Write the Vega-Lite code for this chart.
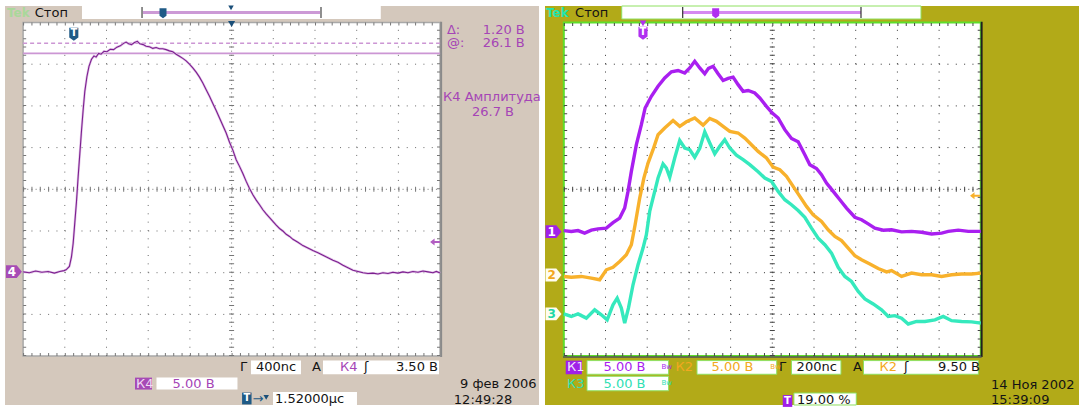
{
"$schema": "https://vega.github.io/schema/vega-lite/v6.json",
"background": "#ffffff",
"padding": 0,
"spacing": 0,
"bounds": "flush",
"config": {
  "view": {"stroke": null},
  "axis": {"disable": true},
  "legend": {"disable": true},
  "text": {"font": "DejaVu Sans", "fontSize": 13, "align": "left", "baseline": "middle"}
},
"datasets": {
  "one": [{"a": 1}],
  "gv": [{"g": -4}, {"g": -3}, {"g": -2}, {"g": -1}, {"g": 1}, {"g": 2}, {"g": 3}, {"g": 4}],
  "gh": [{"g": -3}, {"g": -2}, {"g": -1}, {"g": 1}, {"g": 2}, {"g": 3}],
  "L_trace": [
    {"t": -5.0, "v": -1.98}, {"t": -4.85, "v": -2.0}, {"t": -4.7, "v": -1.96}, {"t": -4.55, "v": -1.99}, {"t": -4.4, "v": -1.97}, {"t": -4.25, "v": -2.01}, {"t": -4.12, "v": -1.97}, {"t": -4.02, "v": -1.95}, {"t": -3.97, "v": -1.93}, {"t": -3.89, "v": -1.85}, {"t": -3.84, "v": -1.62}, {"t": -3.8, "v": -1.3}, {"t": -3.76, "v": -0.8}, {"t": -3.72, "v": -0.3}, {"t": -3.68, "v": 0.3}, {"t": -3.64, "v": 0.85}, {"t": -3.6, "v": 1.4}, {"t": -3.56, "v": 1.9}, {"t": -3.52, "v": 2.35}, {"t": -3.47, "v": 2.7}, {"t": -3.42, "v": 2.95}, {"t": -3.36, "v": 3.12}, {"t": -3.3, "v": 3.2}, {"t": -3.25, "v": 3.17}, {"t": -3.19, "v": 3.26}, {"t": -3.13, "v": 3.24}, {"t": -3.06, "v": 3.31}, {"t": -2.99, "v": 3.3}, {"t": -2.91, "v": 3.36}, {"t": -2.83, "v": 3.35}, {"t": -2.75, "v": 3.41}, {"t": -2.67, "v": 3.44}, {"t": -2.59, "v": 3.5}, {"t": -2.53, "v": 3.53}, {"t": -2.47, "v": 3.49}, {"t": -2.4, "v": 3.47}, {"t": -2.33, "v": 3.52}, {"t": -2.26, "v": 3.55}, {"t": -2.2, "v": 3.49}, {"t": -2.12, "v": 3.47}, {"t": -2.05, "v": 3.43}, {"t": -1.97, "v": 3.42}, {"t": -1.89, "v": 3.38}, {"t": -1.81, "v": 3.4}, {"t": -1.73, "v": 3.37}, {"t": -1.65, "v": 3.37}, {"t": -1.57, "v": 3.35}, {"t": -1.49, "v": 3.32}, {"t": -1.41, "v": 3.3}, {"t": -1.33, "v": 3.24}, {"t": -1.25, "v": 3.19}, {"t": -1.17, "v": 3.14}, {"t": -1.09, "v": 3.08}, {"t": -1.01, "v": 3.0}, {"t": -0.93, "v": 2.91}, {"t": -0.85, "v": 2.81}, {"t": -0.77, "v": 2.69}, {"t": -0.69, "v": 2.55}, {"t": -0.61, "v": 2.39}, {"t": -0.53, "v": 2.23}, {"t": -0.45, "v": 2.06}, {"t": -0.37, "v": 1.89}, {"t": -0.29, "v": 1.71}, {"t": -0.21, "v": 1.53}, {"t": -0.13, "v": 1.35}, {"t": -0.05, "v": 1.13}, {"t": 0.03, "v": 0.94}, {"t": 0.11, "v": 0.71}, {"t": 0.19, "v": 0.55}, {"t": 0.27, "v": 0.38}, {"t": 0.35, "v": 0.19}, {"t": 0.43, "v": 0.02}, {"t": 0.51, "v": -0.13}, {"t": 0.59, "v": -0.26}, {"t": 0.67, "v": -0.37}, {"t": 0.75, "v": -0.49}, {"t": 0.83, "v": -0.59}, {"t": 0.91, "v": -0.68}, {"t": 0.99, "v": -0.77}, {"t": 1.07, "v": -0.86}, {"t": 1.15, "v": -0.94}, {"t": 1.23, "v": -1.0}, {"t": 1.31, "v": -1.08}, {"t": 1.39, "v": -1.13}, {"t": 1.47, "v": -1.2}, {"t": 1.59, "v": -1.27}, {"t": 1.71, "v": -1.35}, {"t": 1.83, "v": -1.41}, {"t": 1.95, "v": -1.47}, {"t": 2.07, "v": -1.52}, {"t": 2.19, "v": -1.58}, {"t": 2.31, "v": -1.64}, {"t": 2.43, "v": -1.7}, {"t": 2.55, "v": -1.75}, {"t": 2.67, "v": -1.82}, {"t": 2.79, "v": -1.88}, {"t": 2.91, "v": -1.94}, {"t": 3.03, "v": -1.97}, {"t": 3.15, "v": -2.0}, {"t": 3.27, "v": -2.02}, {"t": 3.39, "v": -2.01}, {"t": 3.51, "v": -2.03}, {"t": 3.63, "v": -2.0}, {"t": 3.75, "v": -2.02}, {"t": 3.87, "v": -1.99}, {"t": 3.99, "v": -2.01}, {"t": 4.11, "v": -1.98}, {"t": 4.23, "v": -2.0}, {"t": 4.35, "v": -1.97}, {"t": 4.47, "v": -1.99}, {"t": 4.59, "v": -1.96}, {"t": 4.71, "v": -1.98}, {"t": 4.83, "v": -2.0}, {"t": 4.91, "v": -1.97}, {"t": 5.0, "v": -2.01}
  ],
  "R_trace": [
    {"ch": "1", "t": -5.0, "v": -0.99}, {"ch": "1", "t": -4.82, "v": -1.01}, {"ch": "1", "t": -4.66, "v": -0.99}, {"ch": "1", "t": -4.5, "v": -1.05}, {"ch": "1", "t": -4.34, "v": -0.98}, {"ch": "1", "t": -4.18, "v": -0.95}, {"ch": "1", "t": -3.98, "v": -0.93}, {"ch": "1", "t": -3.82, "v": -0.8}, {"ch": "1", "t": -3.66, "v": -0.69}, {"ch": "1", "t": -3.54, "v": -0.45}, {"ch": "1", "t": -3.46, "v": -0.05}, {"ch": "1", "t": -3.38, "v": 0.43}, {"ch": "1", "t": -3.26, "v": 1.07}, {"ch": "1", "t": -3.14, "v": 1.55}, {"ch": "1", "t": -3.05, "v": 1.95}, {"ch": "1", "t": -2.9, "v": 2.23}, {"ch": "1", "t": -2.74, "v": 2.47}, {"ch": "1", "t": -2.58, "v": 2.67}, {"ch": "1", "t": -2.42, "v": 2.82}, {"ch": "1", "t": -2.26, "v": 2.85}, {"ch": "1", "t": -2.1, "v": 2.79}, {"ch": "1", "t": -1.98, "v": 2.91}, {"ch": "1", "t": -1.86, "v": 3.07}, {"ch": "1", "t": -1.74, "v": 2.91}, {"ch": "1", "t": -1.62, "v": 2.77}, {"ch": "1", "t": -1.53, "v": 2.9}, {"ch": "1", "t": -1.42, "v": 2.95}, {"ch": "1", "t": -1.3, "v": 2.77}, {"ch": "1", "t": -1.18, "v": 2.61}, {"ch": "1", "t": -1.06, "v": 2.66}, {"ch": "1", "t": -0.94, "v": 2.69}, {"ch": "1", "t": -0.82, "v": 2.51}, {"ch": "1", "t": -0.7, "v": 2.35}, {"ch": "1", "t": -0.58, "v": 2.37}, {"ch": "1", "t": -0.42, "v": 2.31}, {"ch": "1", "t": -0.3, "v": 2.19}, {"ch": "1", "t": -0.14, "v": 1.99}, {"ch": "1", "t": 0.0, "v": 1.83}, {"ch": "1", "t": 0.14, "v": 1.71}, {"ch": "1", "t": 0.3, "v": 1.43}, {"ch": "1", "t": 0.46, "v": 1.22}, {"ch": "1", "t": 0.62, "v": 1.14}, {"ch": "1", "t": 0.78, "v": 0.83}, {"ch": "1", "t": 0.9, "v": 0.59}, {"ch": "1", "t": 1.06, "v": 0.5}, {"ch": "1", "t": 1.18, "v": 0.35}, {"ch": "1", "t": 1.3, "v": 0.15}, {"ch": "1", "t": 1.46, "v": -0.05}, {"ch": "1", "t": 1.62, "v": -0.25}, {"ch": "1", "t": 1.78, "v": -0.45}, {"ch": "1", "t": 1.98, "v": -0.67}, {"ch": "1", "t": 2.14, "v": -0.73}, {"ch": "1", "t": 2.3, "v": -0.83}, {"ch": "1", "t": 2.46, "v": -0.93}, {"ch": "1", "t": 2.66, "v": -0.98}, {"ch": "1", "t": 2.86, "v": -0.97}, {"ch": "1", "t": 3.1, "v": -1.02}, {"ch": "1", "t": 3.34, "v": -1.01}, {"ch": "1", "t": 3.58, "v": -1.03}, {"ch": "1", "t": 3.82, "v": -1.07}, {"ch": "1", "t": 4.06, "v": -1.05}, {"ch": "1", "t": 4.22, "v": -1.01}, {"ch": "1", "t": 4.46, "v": -0.98}, {"ch": "1", "t": 4.7, "v": -1.01}, {"ch": "1", "t": 5.0, "v": -1.01},
    {"ch": "2", "t": -5.0, "v": -2.09}, {"ch": "2", "t": -4.82, "v": -2.11}, {"ch": "2", "t": -4.58, "v": -2.09}, {"ch": "2", "t": -4.34, "v": -2.13}, {"ch": "2", "t": -4.14, "v": -2.17}, {"ch": "2", "t": -3.98, "v": -1.93}, {"ch": "2", "t": -3.82, "v": -1.87}, {"ch": "2", "t": -3.66, "v": -1.73}, {"ch": "2", "t": -3.5, "v": -1.57}, {"ch": "2", "t": -3.38, "v": -1.33}, {"ch": "2", "t": -3.29, "v": -0.85}, {"ch": "2", "t": -3.18, "v": -0.21}, {"ch": "2", "t": -3.08, "v": 0.27}, {"ch": "2", "t": -2.98, "v": 0.63}, {"ch": "2", "t": -2.86, "v": 0.95}, {"ch": "2", "t": -2.74, "v": 1.31}, {"ch": "2", "t": -2.58, "v": 1.47}, {"ch": "2", "t": -2.38, "v": 1.65}, {"ch": "2", "t": -2.22, "v": 1.51}, {"ch": "2", "t": -2.06, "v": 1.62}, {"ch": "2", "t": -1.86, "v": 1.71}, {"ch": "2", "t": -1.66, "v": 1.54}, {"ch": "2", "t": -1.5, "v": 1.7}, {"ch": "2", "t": -1.34, "v": 1.63}, {"ch": "2", "t": -1.18, "v": 1.51}, {"ch": "2", "t": -1.02, "v": 1.39}, {"ch": "2", "t": -0.82, "v": 1.35}, {"ch": "2", "t": -0.66, "v": 1.23}, {"ch": "2", "t": -0.5, "v": 1.07}, {"ch": "2", "t": -0.34, "v": 0.91}, {"ch": "2", "t": -0.14, "v": 0.75}, {"ch": "2", "t": 0.02, "v": 0.53}, {"ch": "2", "t": 0.18, "v": 0.47}, {"ch": "2", "t": 0.34, "v": 0.31}, {"ch": "2", "t": 0.5, "v": 0.07}, {"ch": "2", "t": 0.66, "v": -0.17}, {"ch": "2", "t": 0.82, "v": -0.41}, {"ch": "2", "t": 0.98, "v": -0.61}, {"ch": "2", "t": 1.18, "v": -0.77}, {"ch": "2", "t": 1.34, "v": -0.97}, {"ch": "2", "t": 1.5, "v": -1.13}, {"ch": "2", "t": 1.66, "v": -1.23}, {"ch": "2", "t": 1.82, "v": -1.41}, {"ch": "2", "t": 1.98, "v": -1.59}, {"ch": "2", "t": 2.14, "v": -1.69}, {"ch": "2", "t": 2.34, "v": -1.79}, {"ch": "2", "t": 2.54, "v": -1.9}, {"ch": "2", "t": 2.74, "v": -1.98}, {"ch": "2", "t": 2.86, "v": -1.95}, {"ch": "2", "t": 3.1, "v": -2.09}, {"ch": "2", "t": 3.34, "v": -2.01}, {"ch": "2", "t": 3.58, "v": -2.05}, {"ch": "2", "t": 3.82, "v": -2.05}, {"ch": "2", "t": 4.06, "v": -2.09}, {"ch": "2", "t": 4.3, "v": -2.05}, {"ch": "2", "t": 4.54, "v": -2.03}, {"ch": "2", "t": 4.78, "v": -2.03}, {"ch": "2", "t": 5.0, "v": -2.01},
    {"ch": "3", "t": -5.0, "v": -2.99}, {"ch": "3", "t": -4.82, "v": -3.05}, {"ch": "3", "t": -4.66, "v": -2.99}, {"ch": "3", "t": -4.46, "v": -3.09}, {"ch": "3", "t": -4.26, "v": -2.89}, {"ch": "3", "t": -4.1, "v": -3.01}, {"ch": "3", "t": -3.96, "v": -3.13}, {"ch": "3", "t": -3.82, "v": -2.77}, {"ch": "3", "t": -3.72, "v": -2.61}, {"ch": "3", "t": -3.62, "v": -2.85}, {"ch": "3", "t": -3.54, "v": -3.21}, {"ch": "3", "t": -3.45, "v": -2.85}, {"ch": "3", "t": -3.34, "v": -2.29}, {"ch": "3", "t": -3.22, "v": -1.81}, {"ch": "3", "t": -3.1, "v": -1.41}, {"ch": "3", "t": -3.02, "v": -1.09}, {"ch": "3", "t": -2.94, "v": -0.53}, {"ch": "3", "t": -2.82, "v": -0.05}, {"ch": "3", "t": -2.74, "v": 0.27}, {"ch": "3", "t": -2.62, "v": 0.61}, {"ch": "3", "t": -2.54, "v": 0.51}, {"ch": "3", "t": -2.46, "v": 0.29}, {"ch": "3", "t": -2.34, "v": 0.75}, {"ch": "3", "t": -2.22, "v": 1.17}, {"ch": "3", "t": -2.1, "v": 0.99}, {"ch": "3", "t": -1.98, "v": 0.95}, {"ch": "3", "t": -1.86, "v": 0.77}, {"ch": "3", "t": -1.74, "v": 0.98}, {"ch": "3", "t": -1.62, "v": 1.38}, {"ch": "3", "t": -1.5, "v": 1.11}, {"ch": "3", "t": -1.38, "v": 0.85}, {"ch": "3", "t": -1.26, "v": 1.03}, {"ch": "3", "t": -1.14, "v": 1.19}, {"ch": "3", "t": -1.02, "v": 0.99}, {"ch": "3", "t": -0.86, "v": 0.82}, {"ch": "3", "t": -0.7, "v": 0.71}, {"ch": "3", "t": -0.54, "v": 0.59}, {"ch": "3", "t": -0.34, "v": 0.42}, {"ch": "3", "t": -0.18, "v": 0.27}, {"ch": "3", "t": -0.02, "v": 0.19}, {"ch": "3", "t": 0.14, "v": -0.05}, {"ch": "3", "t": 0.3, "v": -0.25}, {"ch": "3", "t": 0.46, "v": -0.37}, {"ch": "3", "t": 0.62, "v": -0.51}, {"ch": "3", "t": 0.78, "v": -0.67}, {"ch": "3", "t": 0.94, "v": -0.93}, {"ch": "3", "t": 1.1, "v": -1.17}, {"ch": "3", "t": 1.26, "v": -1.33}, {"ch": "3", "t": 1.42, "v": -1.53}, {"ch": "3", "t": 1.58, "v": -1.87}, {"ch": "3", "t": 1.74, "v": -2.09}, {"ch": "3", "t": 1.9, "v": -2.21}, {"ch": "3", "t": 2.06, "v": -2.45}, {"ch": "3", "t": 2.22, "v": -2.63}, {"ch": "3", "t": 2.42, "v": -2.75}, {"ch": "3", "t": 2.62, "v": -2.89}, {"ch": "3", "t": 2.78, "v": -3.05}, {"ch": "3", "t": 2.94, "v": -3.03}, {"ch": "3", "t": 3.1, "v": -3.09}, {"ch": "3", "t": 3.26, "v": -3.23}, {"ch": "3", "t": 3.46, "v": -3.17}, {"ch": "3", "t": 3.66, "v": -3.17}, {"ch": "3", "t": 3.9, "v": -3.13}, {"ch": "3", "t": 4.1, "v": -3.05}, {"ch": "3", "t": 4.3, "v": -3.15}, {"ch": "3", "t": 4.54, "v": -3.17}, {"ch": "3", "t": 4.78, "v": -3.18}, {"ch": "3", "t": 5.0, "v": -3.21}
  ],
  "L_box": [
    {"x": -3.588, "x2": 3.578, "y": 4.396, "y2": 4.084},
    {"x": 0.465, "x2": 1.664, "y": -4.106, "y2": -4.434},
    {"x": 2.192, "x2": 4.974, "y": -4.106, "y2": -4.434},
    {"x": -1.801, "x2": 0.141, "y": -4.516, "y2": -4.803},
    {"x": 0.993, "x2": 3.007, "y": -4.861, "y2": -5.173}
  ],
  "R_box": [
    {"x": -3.611, "x2": 3.566, "y": 4.396, "y2": 4.084},
    {"x": -4.444, "x2": -2.487, "y": -4.108, "y2": -4.436},
    {"x": -1.806, "x2": 0.106, "y": -4.108, "y2": -4.436},
    {"x": 0.46, "x2": 1.647, "y": -4.108, "y2": -4.436},
    {"x": 2.187, "x2": 4.942, "y": -4.108, "y2": -4.436},
    {"x": -4.444, "x2": -2.487, "y": -4.484, "y2": -4.832},
    {"x": 0.518, "x2": 2.014, "y": -4.885, "y2": -5.173}
  ],
  "L_text": [
    {"s": "Tek", "x": -5.386, "y": 4.225, "k": "tek"},
    {"s": "Стоп", "x": -4.72, "y": 4.225, "k": "ink"},
    {"s": "Δ:", "x": 5.165, "y": 3.82, "k": "ch"},
    {"s": "1.20 В", "x": 6.024, "y": 3.82, "k": "ch"},
    {"s": "@:", "x": 5.165, "y": 3.508, "k": "ch"},
    {"s": "26.1 В", "x": 6.024, "y": 3.508, "k": "ch"},
    {"s": "К4 Амплитуда", "x": 5.07, "y": 2.213, "k": "ch"},
    {"s": "26.7 В", "x": 5.765, "y": 1.853, "k": "ch"},
    {"s": "Г", "x": 0.201, "y": -4.261, "k": "ink"},
    {"s": "400nс", "x": 0.585, "y": -4.261, "k": "ink"},
    {"s": "А", "x": 1.928, "y": -4.261, "k": "ink"},
    {"s": "К4", "x": 2.6, "y": -4.261, "k": "ch"},
    {"s": "ʃ", "x": 3.175, "y": -4.261, "k": "ink"},
    {"s": "3.50 В", "x": 3.942, "y": -4.261, "k": "ink"},
    {"s": "К4", "x": -2.293, "y": -4.659, "k": "lt"},
    {"s": "5.00 В", "x": -1.415, "y": -4.659, "k": "ch"},
    {"s": "→", "x": 0.5, "y": -5.02, "k": "blue"},
    {"s": "1.52000µс", "x": 1.041, "y": -5.036, "k": "ink"},
    {"s": "9 фев 2006", "x": 5.48, "y": -4.679, "k": "ink"},
    {"s": "12:49:28", "x": 5.33, "y": -5.048, "k": "ink"}
  ],
  "R_text": [
    {"s": "Tek", "x": -5.427, "y": 4.225, "k": "tek"},
    {"s": "Стоп", "x": -4.73, "y": 4.225, "k": "ink"},
    {"s": "К1", "x": -4.923, "y": -4.272, "k": "lt"},
    {"s": "5.00 В", "x": -4.048, "y": -4.272, "k": "c1"},
    {"s": "К2", "x": -2.321, "y": -4.272, "k": "c2"},
    {"s": "5.00 В", "x": -1.458, "y": -4.272, "k": "c2"},
    {"s": "Г", "x": 0.161, "y": -4.272, "k": "ink"},
    {"s": "200nс", "x": 0.583, "y": -4.272, "k": "ink"},
    {"s": "А", "x": 1.935, "y": -4.272, "k": "ink"},
    {"s": "К2", "x": 2.573, "y": -4.272, "k": "c2"},
    {"s": "ʃ", "x": 3.158, "y": -4.272, "k": "ink"},
    {"s": "9.50 В", "x": 3.974, "y": -4.272, "k": "ink"},
    {"s": "К3", "x": -4.923, "y": -4.662, "k": "c3"},
    {"s": "5.00 В", "x": -4.048, "y": -4.662, "k": "c3"},
    {"s": "19.00 %", "x": 0.592, "y": -5.06, "k": "ink"},
    {"s": "14 Ноя 2002", "x": 5.245, "y": -4.683, "k": "ink"},
    {"s": "15:39:09", "x": 5.245, "y": -5.053, "k": "ink"}
  ],
  "R_bw": [
    {"s": "Bw", "x": -2.66, "y": -4.25, "k": "c1"},
    {"s": "Bw", "x": -0.05, "y": -4.25, "k": "c2"},
    {"s": "Bw", "x": -2.66, "y": -4.64, "k": "c3"}
  ],
  "R_mark": [
    {"n": "1", "y": -1.017},
    {"n": "2", "y": -2.055},
    {"n": "3", "y": -2.99}
  ]
},
"hconcat": [
{
  "width": 542, "height": 408,
  "resolve": {"scale": {"color": "independent"}},
  "layer": [
    {"data": {"name": "one"}, "mark": {"type": "rect", "color": "#d4c8bc"},
     "encoding": {"x": {"datum": -5.434, "type": "quantitative", "scale": {"domain": [-5.554, 7.444], "nice": false, "zero": false}}, "x2": {"datum": 7.372},
                  "y": {"datum": 4.396, "type": "quantitative", "scale": {"domain": [-5.245, 4.54], "nice": false, "zero": false}}, "y2": {"datum": -5.173}}},
    {"data": {"name": "one"}, "mark": {"type": "rect", "fill": "#ffffff", "stroke": "#a8a8a8", "strokeWidth": 1.5},
     "encoding": {"x": {"datum": -5, "type": "quantitative", "scale": {"domain": [-5.554, 7.444], "nice": false, "zero": false}}, "x2": {"datum": 5},
                  "y": {"datum": -4, "type": "quantitative", "scale": {"domain": [-5.245, 4.54], "nice": false, "zero": false}}, "y2": {"datum": 4}}},
    {"data": {"name": "one"}, "mark": {"type": "rule", "color": "#8a8a8a", "strokeWidth": 2},
     "encoding": {"x": {"datum": 5.025, "type": "quantitative", "scale": {"domain": [-5.554, 7.444], "nice": false, "zero": false}},
                  "y": {"datum": -4.02, "type": "quantitative", "scale": {"domain": [-5.245, 4.54], "nice": false, "zero": false}}, "y2": {"datum": 4.02}}},
    {"data": {"name": "gv"}, "mark": {"type": "rule", "color": "#6a6a6a", "strokeDash": [1, 7.34]},
     "encoding": {"x": {"field": "g", "type": "quantitative", "scale": {"domain": [-5.554, 7.444], "nice": false, "zero": false}},
                  "y": {"datum": -4, "type": "quantitative", "scale": {"domain": [-5.245, 4.54], "nice": false, "zero": false}}, "y2": {"datum": 4}}},
    {"data": {"name": "gh"}, "mark": {"type": "rule", "color": "#6a6a6a", "strokeDash": [1, 7.34]},
     "encoding": {"y": {"field": "g", "type": "quantitative", "scale": {"domain": [-5.245, 4.54], "nice": false, "zero": false}},
                  "x": {"datum": -5, "type": "quantitative", "scale": {"domain": [-5.554, 7.444], "nice": false, "zero": false}}, "x2": {"datum": 5}}},
    {"data": {"name": "one"}, "mark": {"type": "rule", "color": "#777777", "strokeDash": [1, 3.17]},
     "encoding": {"y": {"datum": 0, "type": "quantitative", "scale": {"domain": [-5.245, 4.54], "nice": false, "zero": false}},
                  "x": {"datum": -5, "type": "quantitative", "scale": {"domain": [-5.554, 7.444], "nice": false, "zero": false}}, "x2": {"datum": 5}}},
    {"data": {"name": "one"}, "mark": {"type": "rule", "color": "#777777", "strokeWidth": 5, "strokeDash": [1, 7.34]},
     "encoding": {"y": {"datum": 0, "type": "quantitative", "scale": {"domain": [-5.245, 4.54], "nice": false, "zero": false}},
                  "x": {"datum": -5, "type": "quantitative", "scale": {"domain": [-5.554, 7.444], "nice": false, "zero": false}}, "x2": {"datum": 5}}},
    {"data": {"name": "one"}, "mark": {"type": "rule", "color": "#777777", "strokeDash": [1, 3.17]},
     "encoding": {"x": {"datum": 0, "type": "quantitative", "scale": {"domain": [-5.554, 7.444], "nice": false, "zero": false}},
                  "y": {"datum": -4, "type": "quantitative", "scale": {"domain": [-5.245, 4.54], "nice": false, "zero": false}}, "y2": {"datum": 4}}},
    {"data": {"name": "one"}, "mark": {"type": "rule", "color": "#777777", "strokeWidth": 5, "strokeDash": [1, 7.34]},
     "encoding": {"x": {"datum": 0, "type": "quantitative", "scale": {"domain": [-5.554, 7.444], "nice": false, "zero": false}},
                  "y": {"datum": -4, "type": "quantitative", "scale": {"domain": [-5.245, 4.54], "nice": false, "zero": false}}, "y2": {"datum": 4}}},
    {"data": {"name": "one"}, "mark": {"type": "rule", "color": "#777777", "strokeWidth": 3, "strokeDash": [1, 7.34]},
     "encoding": {"y": {"datum": 3.962, "type": "quantitative", "scale": {"domain": [-5.245, 4.54], "nice": false, "zero": false}},
                  "x": {"datum": -5, "type": "quantitative", "scale": {"domain": [-5.554, 7.444], "nice": false, "zero": false}}, "x2": {"datum": 5}}},
    {"data": {"name": "one"}, "mark": {"type": "rule", "color": "#777777", "strokeWidth": 3, "strokeDash": [1, 7.34]},
     "encoding": {"y": {"datum": -3.962, "type": "quantitative", "scale": {"domain": [-5.245, 4.54], "nice": false, "zero": false}},
                  "x": {"datum": -5, "type": "quantitative", "scale": {"domain": [-5.554, 7.444], "nice": false, "zero": false}}, "x2": {"datum": 5}}},
    {"data": {"name": "one"}, "mark": {"type": "rule", "color": "#777777", "strokeWidth": 3, "strokeDash": [1, 7.34]},
     "encoding": {"x": {"datum": -4.962, "type": "quantitative", "scale": {"domain": [-5.554, 7.444], "nice": false, "zero": false}},
                  "y": {"datum": -4, "type": "quantitative", "scale": {"domain": [-5.245, 4.54], "nice": false, "zero": false}}, "y2": {"datum": 4}}},
    {"data": {"name": "one"}, "mark": {"type": "rule", "color": "#777777", "strokeWidth": 3, "strokeDash": [1, 7.34]},
     "encoding": {"x": {"datum": 4.962, "type": "quantitative", "scale": {"domain": [-5.554, 7.444], "nice": false, "zero": false}},
                  "y": {"datum": -4, "type": "quantitative", "scale": {"domain": [-5.245, 4.54], "nice": false, "zero": false}}, "y2": {"datum": 4}}},
    {"data": {"name": "one"}, "mark": {"type": "rule", "color": "#cc96d4", "strokeWidth": 1.6},
     "encoding": {"y": {"datum": 3.261, "type": "quantitative", "scale": {"domain": [-5.245, 4.54], "nice": false, "zero": false}},
                  "x": {"datum": -5, "type": "quantitative", "scale": {"domain": [-5.554, 7.444], "nice": false, "zero": false}}, "x2": {"datum": 5}}},
    {"data": {"name": "one"}, "mark": {"type": "rule", "color": "#cc96d4", "strokeWidth": 1.6, "strokeDash": [4, 3]},
     "encoding": {"y": {"datum": 3.501, "type": "quantitative", "scale": {"domain": [-5.245, 4.54], "nice": false, "zero": false}},
                  "x": {"datum": -5, "type": "quantitative", "scale": {"domain": [-5.554, 7.444], "nice": false, "zero": false}}, "x2": {"datum": 5}}},
    {"data": {"name": "L_trace"}, "mark": {"type": "line", "color": "#e2c4e8", "strokeWidth": 2.4},
     "encoding": {"x": {"field": "t", "type": "quantitative", "scale": {"domain": [-5.554, 7.444], "nice": false, "zero": false}},
                  "y": {"field": "v", "type": "quantitative", "scale": {"domain": [-5.245, 4.54], "nice": false, "zero": false}}}},
    {"data": {"name": "L_trace"}, "mark": {"type": "line", "color": "#7c1f8f", "strokeWidth": 1.1},
     "encoding": {"x": {"field": "t", "type": "quantitative", "scale": {"domain": [-5.554, 7.444], "nice": false, "zero": false}},
                  "y": {"field": "v", "type": "quantitative", "scale": {"domain": [-5.245, 4.54], "nice": false, "zero": false}}}},
    {"data": {"name": "one"}, "mark": {"type": "point", "shape": "triangle-down", "size": 50, "filled": true, "color": "#1b4f79", "opacity": 1},
     "encoding": {"x": {"datum": 0, "type": "quantitative", "scale": {"domain": [-5.554, 7.444], "nice": false, "zero": false}},
                  "y": {"datum": 3.964, "type": "quantitative", "scale": {"domain": [-5.245, 4.54], "nice": false, "zero": false}}}},
    {"data": {"name": "one"}, "mark": {"type": "point", "shape": "M-0.7,-1H0.7V0.5L0,1L-0.7,0.5Z", "size": 169, "filled": true, "color": "#1f5a86", "opacity": 1},
     "encoding": {"x": {"datum": -3.784, "type": "quantitative", "scale": {"domain": [-5.554, 7.444], "nice": false, "zero": false}},
                  "y": {"datum": 3.717, "type": "quantitative", "scale": {"domain": [-5.245, 4.54], "nice": false, "zero": false}}}},
    {"data": {"name": "one"}, "mark": {"type": "text", "text": "T", "color": "#ffffff", "fontWeight": "bold", "fontSize": 10, "align": "center"},
     "encoding": {"x": {"datum": -3.784, "type": "quantitative", "scale": {"domain": [-5.554, 7.444], "nice": false, "zero": false}},
                  "y": {"datum": 3.74, "type": "quantitative", "scale": {"domain": [-5.245, 4.54], "nice": false, "zero": false}}}},
    {"data": {"name": "L_box"}, "mark": {"type": "rect", "fill": "#ffffff"},
     "encoding": {"x": {"field": "x", "type": "quantitative", "scale": {"domain": [-5.554, 7.444], "nice": false, "zero": false}}, "x2": {"field": "x2"},
                  "y": {"field": "y", "type": "quantitative", "scale": {"domain": [-5.245, 4.54], "nice": false, "zero": false}}, "y2": {"field": "y2"}}},
    {"data": {"name": "one"}, "mark": {"type": "rule", "color": "#cc9ad6", "strokeWidth": 3},
     "encoding": {"y": {"datum": 4.24, "type": "quantitative", "scale": {"domain": [-5.245, 4.54], "nice": false, "zero": false}},
                  "x": {"datum": -2.125, "type": "quantitative", "scale": {"domain": [-5.554, 7.444], "nice": false, "zero": false}}, "x2": {"datum": 2.12}}},
    {"data": {"values": [{"g": -2.148}, {"g": 2.144}]}, "mark": {"type": "rule", "color": "#444444", "strokeWidth": 1.2},
     "encoding": {"x": {"field": "g", "type": "quantitative", "scale": {"domain": [-5.554, 7.444], "nice": false, "zero": false}},
                  "y": {"datum": 4.108, "type": "quantitative", "scale": {"domain": [-5.245, 4.54], "nice": false, "zero": false}}, "y2": {"datum": 4.372}}},
    {"data": {"name": "one"}, "mark": {"type": "point", "shape": "M-0.7,-1H0.7V0.5L0,1L-0.7,0.5Z", "size": 100, "filled": true, "color": "#1f5a86", "opacity": 1},
     "encoding": {"x": {"datum": -1.645, "type": "quantitative", "scale": {"domain": [-5.554, 7.444], "nice": false, "zero": false}},
                  "y": {"datum": 4.225, "type": "quantitative", "scale": {"domain": [-5.245, 4.54], "nice": false, "zero": false}}}},
    {"data": {"name": "one"}, "mark": {"type": "point", "shape": "triangle-down", "size": 30, "filled": true, "color": "#1b4f79", "opacity": 1},
     "encoding": {"x": {"datum": -0.014, "type": "quantitative", "scale": {"domain": [-5.554, 7.444], "nice": false, "zero": false}},
                  "y": {"datum": 4.35, "type": "quantitative", "scale": {"domain": [-5.245, 4.54], "nice": false, "zero": false}}}},
    {"data": {"name": "one"}, "mark": {"type": "rect", "color": "#a64bb5"},
     "encoding": {"x": {"datum": -2.317, "type": "quantitative", "scale": {"domain": [-5.554, 7.444], "nice": false, "zero": false}}, "x2": {"datum": -1.909},
                  "y": {"datum": -4.516, "type": "quantitative", "scale": {"domain": [-5.245, 4.54], "nice": false, "zero": false}}, "y2": {"datum": -4.803}}},
    {"data": {"name": "one"}, "mark": {"type": "point", "shape": "M-1,-0.8H0.35L1,0L0.35,0.8H-1Z", "size": 256, "filled": true, "color": "#a64bb5", "opacity": 1},
     "encoding": {"x": {"datum": -5.22, "type": "quantitative", "scale": {"domain": [-5.554, 7.444], "nice": false, "zero": false}},
                  "y": {"datum": -1.976, "type": "quantitative", "scale": {"domain": [-5.245, 4.54], "nice": false, "zero": false}}}},
    {"data": {"name": "one"}, "mark": {"type": "text", "text": "4", "color": "#ffffff", "fontWeight": "bold", "fontSize": 12, "align": "center"},
     "encoding": {"x": {"datum": -5.27, "type": "quantitative", "scale": {"domain": [-5.554, 7.444], "nice": false, "zero": false}},
                  "y": {"datum": -1.976, "type": "quantitative", "scale": {"domain": [-5.245, 4.54], "nice": false, "zero": false}}}},
    {"data": {"name": "one"}, "mark": {"type": "point", "shape": "M-1,0L-0.1,-0.7V-0.2H1V0.2H-0.1V0.7Z", "size": 100, "filled": true, "color": "#b25ec2", "opacity": 1},
     "encoding": {"x": {"datum": 4.88, "type": "quantitative", "scale": {"domain": [-5.554, 7.444], "nice": false, "zero": false}},
                  "y": {"datum": -1.264, "type": "quantitative", "scale": {"domain": [-5.245, 4.54], "nice": false, "zero": false}}}},
    {"data": {"name": "one"}, "mark": {"type": "point", "shape": "M-0.8,-1H0.8V1H-0.8Z", "size": 140, "filled": true, "color": "#1f5a86", "opacity": 1},
     "encoding": {"x": {"datum": 0.365, "type": "quantitative", "scale": {"domain": [-5.554, 7.444], "nice": false, "zero": false}},
                  "y": {"datum": -5.017, "type": "quantitative", "scale": {"domain": [-5.245, 4.54], "nice": false, "zero": false}}}},
    {"data": {"name": "one"}, "mark": {"type": "text", "text": "T", "color": "#ffffff", "fontWeight": "bold", "fontSize": 10, "align": "center"},
     "encoding": {"x": {"datum": 0.365, "type": "quantitative", "scale": {"domain": [-5.554, 7.444], "nice": false, "zero": false}},
                  "y": {"datum": -5.017, "type": "quantitative", "scale": {"domain": [-5.245, 4.54], "nice": false, "zero": false}}}},
    {"data": {"name": "one"}, "mark": {"type": "point", "shape": "triangle-down", "size": 30, "filled": true, "color": "#1b4f79", "opacity": 1},
     "encoding": {"x": {"datum": 0.83, "type": "quantitative", "scale": {"domain": [-5.554, 7.444], "nice": false, "zero": false}},
                  "y": {"datum": -4.99, "type": "quantitative", "scale": {"domain": [-5.245, 4.54], "nice": false, "zero": false}}}},
    {"data": {"name": "L_text"}, "transform": [{"filter": "datum.k != 'tek'"}], "mark": {"type": "text"},
     "encoding": {"x": {"field": "x", "type": "quantitative", "scale": {"domain": [-5.554, 7.444], "nice": false, "zero": false}},
                  "y": {"field": "y", "type": "quantitative", "scale": {"domain": [-5.245, 4.54], "nice": false, "zero": false}},
                  "text": {"field": "s"},
                  "color": {"field": "k", "type": "nominal", "scale": {"domain": ["ink", "ch", "lt", "blue"], "range": ["#141414", "#a545b6", "#f0dcf4", "#1f5a86"]}}}},
    {"data": {"name": "L_text"}, "transform": [{"filter": "datum.k == 'tek'"}], "mark": {"type": "text", "fontWeight": "bold", "fontSize": 12, "color": "#a9d89a"},
     "encoding": {"x": {"field": "x", "type": "quantitative", "scale": {"domain": [-5.554, 7.444], "nice": false, "zero": false}},
                  "y": {"field": "y", "type": "quantitative", "scale": {"domain": [-5.245, 4.54], "nice": false, "zero": false}},
                  "text": {"field": "s"}}}
  ]
},
{
  "width": 540, "height": 408,
  "resolve": {"scale": {"color": "independent"}},
  "layer": [
    {"data": {"name": "one"}, "mark": {"type": "rect", "color": "#b2aa18"},
     "encoding": {"x": {"datum": -5.451, "type": "quantitative", "scale": {"domain": [-5.523, 7.427], "nice": false, "zero": false}}, "x2": {"datum": 7.355},
                  "y": {"datum": 4.396, "type": "quantitative", "scale": {"domain": [-5.245, 4.54], "nice": false, "zero": false}}, "y2": {"datum": -5.173}}},
    {"data": {"name": "one"}, "mark": {"type": "rect", "fill": "#ffffff", "stroke": "#5ede2a", "strokeWidth": 2},
     "encoding": {"x": {"datum": -5, "type": "quantitative", "scale": {"domain": [-5.523, 7.427], "nice": false, "zero": false}}, "x2": {"datum": 5},
                  "y": {"datum": -4, "type": "quantitative", "scale": {"domain": [-5.245, 4.54], "nice": false, "zero": false}}, "y2": {"datum": 4}}},
    {"data": {"name": "one"}, "mark": {"type": "rule", "color": "#202020", "strokeWidth": 2},
     "encoding": {"x": {"datum": 5.02, "type": "quantitative", "scale": {"domain": [-5.523, 7.427], "nice": false, "zero": false}},
                  "y": {"datum": -4.02, "type": "quantitative", "scale": {"domain": [-5.245, 4.54], "nice": false, "zero": false}}, "y2": {"datum": 4.02}}},
    {"data": {"name": "one"}, "mark": {"type": "rule", "color": "#555555", "strokeWidth": 1.5},
     "encoding": {"y": {"datum": -4.02, "type": "quantitative", "scale": {"domain": [-5.245, 4.54], "nice": false, "zero": false}},
                  "x": {"datum": -5.02, "type": "quantitative", "scale": {"domain": [-5.523, 7.427], "nice": false, "zero": false}}, "x2": {"datum": 5.02}}},
    {"data": {"name": "gv"}, "mark": {"type": "rule", "color": "#333333", "strokeDash": [1, 7.34]},
     "encoding": {"x": {"field": "g", "type": "quantitative", "scale": {"domain": [-5.523, 7.427], "nice": false, "zero": false}},
                  "y": {"datum": -4, "type": "quantitative", "scale": {"domain": [-5.245, 4.54], "nice": false, "zero": false}}, "y2": {"datum": 4}}},
    {"data": {"name": "gh"}, "mark": {"type": "rule", "color": "#333333", "strokeDash": [1, 7.34]},
     "encoding": {"y": {"field": "g", "type": "quantitative", "scale": {"domain": [-5.245, 4.54], "nice": false, "zero": false}},
                  "x": {"datum": -5, "type": "quantitative", "scale": {"domain": [-5.523, 7.427], "nice": false, "zero": false}}, "x2": {"datum": 5}}},
    {"data": {"name": "one"}, "mark": {"type": "rule", "color": "#444444", "strokeDash": [1, 3.17]},
     "encoding": {"y": {"datum": 0, "type": "quantitative", "scale": {"domain": [-5.245, 4.54], "nice": false, "zero": false}},
                  "x": {"datum": -5, "type": "quantitative", "scale": {"domain": [-5.523, 7.427], "nice": false, "zero": false}}, "x2": {"datum": 5}}},
    {"data": {"name": "one"}, "mark": {"type": "rule", "color": "#444444", "strokeWidth": 5, "strokeDash": [1, 7.34]},
     "encoding": {"y": {"datum": 0, "type": "quantitative", "scale": {"domain": [-5.245, 4.54], "nice": false, "zero": false}},
                  "x": {"datum": -5, "type": "quantitative", "scale": {"domain": [-5.523, 7.427], "nice": false, "zero": false}}, "x2": {"datum": 5}}},
    {"data": {"name": "one"}, "mark": {"type": "rule", "color": "#444444", "strokeDash": [1, 3.17]},
     "encoding": {"x": {"datum": 0, "type": "quantitative", "scale": {"domain": [-5.523, 7.427], "nice": false, "zero": false}},
                  "y": {"datum": -4, "type": "quantitative", "scale": {"domain": [-5.245, 4.54], "nice": false, "zero": false}}, "y2": {"datum": 4}}},
    {"data": {"name": "one"}, "mark": {"type": "rule", "color": "#444444", "strokeWidth": 5, "strokeDash": [1, 7.34]},
     "encoding": {"x": {"datum": 0, "type": "quantitative", "scale": {"domain": [-5.523, 7.427], "nice": false, "zero": false}},
                  "y": {"datum": -4, "type": "quantitative", "scale": {"domain": [-5.245, 4.54], "nice": false, "zero": false}}, "y2": {"datum": 4}}},
    {"data": {"name": "one"}, "mark": {"type": "rule", "color": "#444444", "strokeWidth": 3, "strokeDash": [1, 7.34]},
     "encoding": {"y": {"datum": 3.95, "type": "quantitative", "scale": {"domain": [-5.245, 4.54], "nice": false, "zero": false}},
                  "x": {"datum": -5, "type": "quantitative", "scale": {"domain": [-5.523, 7.427], "nice": false, "zero": false}}, "x2": {"datum": 5}}},
    {"data": {"name": "one"}, "mark": {"type": "rule", "color": "#444444", "strokeWidth": 3, "strokeDash": [1, 7.34]},
     "encoding": {"y": {"datum": -3.962, "type": "quantitative", "scale": {"domain": [-5.245, 4.54], "nice": false, "zero": false}},
                  "x": {"datum": -5, "type": "quantitative", "scale": {"domain": [-5.523, 7.427], "nice": false, "zero": false}}, "x2": {"datum": 5}}},
    {"data": {"name": "one"}, "mark": {"type": "rule", "color": "#444444", "strokeWidth": 3, "strokeDash": [1, 7.34]},
     "encoding": {"x": {"datum": -4.955, "type": "quantitative", "scale": {"domain": [-5.523, 7.427], "nice": false, "zero": false}},
                  "y": {"datum": -4, "type": "quantitative", "scale": {"domain": [-5.245, 4.54], "nice": false, "zero": false}}, "y2": {"datum": 4}}},
    {"data": {"name": "one"}, "mark": {"type": "rule", "color": "#444444", "strokeWidth": 3, "strokeDash": [1, 7.34]},
     "encoding": {"x": {"datum": 4.962, "type": "quantitative", "scale": {"domain": [-5.523, 7.427], "nice": false, "zero": false}},
                  "y": {"datum": -4, "type": "quantitative", "scale": {"domain": [-5.245, 4.54], "nice": false, "zero": false}}, "y2": {"datum": 4}}},
    {"data": {"name": "R_trace"}, "mark": {"type": "line", "strokeWidth": 3.4},
     "encoding": {"x": {"field": "t", "type": "quantitative", "scale": {"domain": [-5.523, 7.427], "nice": false, "zero": false}},
                  "y": {"field": "v", "type": "quantitative", "scale": {"domain": [-5.245, 4.54], "nice": false, "zero": false}},
                  "color": {"field": "ch", "type": "nominal", "scale": {"domain": ["1", "2", "3"], "range": ["#a91ff0", "#f8b12c", "#35e9bd"]}}}},
    {"data": {"name": "one"}, "mark": {"type": "point", "shape": "triangle-down", "size": 45, "filled": true, "color": "#b030f0", "opacity": 1},
     "encoding": {"x": {"datum": -3.101, "type": "quantitative", "scale": {"domain": [-5.523, 7.427], "nice": false, "zero": false}},
                  "y": {"datum": 3.98, "type": "quantitative", "scale": {"domain": [-5.245, 4.54], "nice": false, "zero": false}}}},
    {"data": {"name": "one"}, "mark": {"type": "point", "shape": "M-0.7,-1H0.7V0.5L0,1L-0.7,0.5Z", "size": 169, "filled": true, "color": "#b030f0", "opacity": 1},
     "encoding": {"x": {"datum": -3.101, "type": "quantitative", "scale": {"domain": [-5.523, 7.427], "nice": false, "zero": false}},
                  "y": {"datum": 3.74, "type": "quantitative", "scale": {"domain": [-5.245, 4.54], "nice": false, "zero": false}}}},
    {"data": {"name": "one"}, "mark": {"type": "text", "text": "T", "color": "#ffffff", "fontWeight": "bold", "fontSize": 10, "align": "center"},
     "encoding": {"x": {"datum": -3.101, "type": "quantitative", "scale": {"domain": [-5.523, 7.427], "nice": false, "zero": false}},
                  "y": {"datum": 3.765, "type": "quantitative", "scale": {"domain": [-5.245, 4.54], "nice": false, "zero": false}}}},
    {"data": {"name": "R_box"}, "mark": {"type": "rect", "fill": "#ffffff", "stroke": "#8fe060", "strokeWidth": 1},
     "encoding": {"x": {"field": "x", "type": "quantitative", "scale": {"domain": [-5.523, 7.427], "nice": false, "zero": false}}, "x2": {"field": "x2"},
                  "y": {"field": "y", "type": "quantitative", "scale": {"domain": [-5.245, 4.54], "nice": false, "zero": false}}, "y2": {"field": "y2"}}},
    {"data": {"name": "one"}, "mark": {"type": "rule", "color": "#d58af0", "strokeWidth": 3},
     "encoding": {"y": {"datum": 4.24, "type": "quantitative", "scale": {"domain": [-5.245, 4.54], "nice": false, "zero": false}},
                  "x": {"datum": -2.149, "type": "quantitative", "scale": {"domain": [-5.523, 7.427], "nice": false, "zero": false}}, "x2": {"datum": 2.127}}},
    {"data": {"values": [{"g": -2.149}, {"g": 2.127}]}, "mark": {"type": "rule", "color": "#333333", "strokeWidth": 1.2},
     "encoding": {"x": {"field": "g", "type": "quantitative", "scale": {"domain": [-5.523, 7.427], "nice": false, "zero": false}},
                  "y": {"datum": 4.108, "type": "quantitative", "scale": {"domain": [-5.245, 4.54], "nice": false, "zero": false}}, "y2": {"datum": 4.372}}},
    {"data": {"name": "one"}, "mark": {"type": "point", "shape": "M-0.7,-1H0.7V0.5L0,1L-0.7,0.5Z", "size": 100, "filled": true, "color": "#b030f0", "opacity": 1},
     "encoding": {"x": {"datum": -1.358, "type": "quantitative", "scale": {"domain": [-5.523, 7.427], "nice": false, "zero": false}},
                  "y": {"datum": 4.225, "type": "quantitative", "scale": {"domain": [-5.245, 4.54], "nice": false, "zero": false}}}},
    {"data": {"name": "one"}, "mark": {"type": "rect", "color": "#a020e8"},
     "encoding": {"x": {"datum": -4.954, "type": "quantitative", "scale": {"domain": [-5.523, 7.427], "nice": false, "zero": false}}, "x2": {"datum": -4.566},
                  "y": {"datum": -4.108, "type": "quantitative", "scale": {"domain": [-5.245, 4.54], "nice": false, "zero": false}}, "y2": {"datum": -4.436}}},
    {"data": {"name": "R_mark"}, "transform": [{"filter": "datum.n == '1'"}], "mark": {"type": "point", "shape": "M-1,-0.8H0.35L1,0L0.35,0.8H-1Z", "size": 256, "filled": true, "color": "#a020e8", "opacity": 1},
     "encoding": {"x": {"datum": -5.247, "type": "quantitative", "scale": {"domain": [-5.523, 7.427], "nice": false, "zero": false}},
                  "y": {"field": "y", "type": "quantitative", "scale": {"domain": [-5.245, 4.54], "nice": false, "zero": false}}}},
    {"data": {"name": "R_mark"}, "transform": [{"filter": "datum.n != '1'"}], "mark": {"type": "point", "shape": "M-1,-0.8H0.35L1,0L0.35,0.8H-1Z", "size": 256, "filled": true, "color": "#fffdf0", "opacity": 1},
     "encoding": {"x": {"datum": -5.247, "type": "quantitative", "scale": {"domain": [-5.523, 7.427], "nice": false, "zero": false}},
                  "y": {"field": "y", "type": "quantitative", "scale": {"domain": [-5.245, 4.54], "nice": false, "zero": false}}}},
    {"data": {"name": "R_mark"}, "mark": {"type": "text", "fontWeight": "bold", "fontSize": 12, "align": "center"},
     "encoding": {"x": {"datum": -5.29, "type": "quantitative", "scale": {"domain": [-5.523, 7.427], "nice": false, "zero": false}},
                  "y": {"field": "y", "type": "quantitative", "scale": {"domain": [-5.245, 4.54], "nice": false, "zero": false}},
                  "text": {"field": "n"},
                  "color": {"field": "n", "type": "nominal", "scale": {"domain": ["1", "2", "3"], "range": ["#ffffff", "#f3a820", "#22d8a8"]}}}},
    {"data": {"name": "one"}, "mark": {"type": "point", "shape": "M-1,0L-0.1,-0.7V-0.2H1V0.2H-0.1V0.7Z", "size": 100, "filled": true, "color": "#f8b12c", "opacity": 1},
     "encoding": {"x": {"datum": 4.861, "type": "quantitative", "scale": {"domain": [-5.523, 7.427], "nice": false, "zero": false}},
                  "y": {"datum": -0.153, "type": "quantitative", "scale": {"domain": [-5.245, 4.54], "nice": false, "zero": false}}}},
    {"data": {"name": "one"}, "mark": {"type": "point", "shape": "M-0.8,-1H0.8V1H-0.8Z", "size": 140, "filled": true, "color": "#a020e8", "opacity": 1},
     "encoding": {"x": {"datum": 0.365, "type": "quantitative", "scale": {"domain": [-5.523, 7.427], "nice": false, "zero": false}},
                  "y": {"datum": -5.077, "type": "quantitative", "scale": {"domain": [-5.245, 4.54], "nice": false, "zero": false}}}},
    {"data": {"name": "one"}, "mark": {"type": "text", "text": "T", "color": "#ffffff", "fontWeight": "bold", "fontSize": 10, "align": "center"},
     "encoding": {"x": {"datum": 0.365, "type": "quantitative", "scale": {"domain": [-5.523, 7.427], "nice": false, "zero": false}},
                  "y": {"datum": -5.077, "type": "quantitative", "scale": {"domain": [-5.245, 4.54], "nice": false, "zero": false}}}},
    {"data": {"name": "R_text"}, "transform": [{"filter": "datum.k != 'tek'"}], "mark": {"type": "text"},
     "encoding": {"x": {"field": "x", "type": "quantitative", "scale": {"domain": [-5.523, 7.427], "nice": false, "zero": false}},
                  "y": {"field": "y", "type": "quantitative", "scale": {"domain": [-5.245, 4.54], "nice": false, "zero": false}},
                  "text": {"field": "s"},
                  "color": {"field": "k", "type": "nominal", "scale": {"domain": ["ink", "c1", "c2", "c3", "lt"], "range": ["#141414", "#a91ff0", "#f3a820", "#2fe0b4", "#f4e4ff"]}}}},
    {"data": {"name": "R_text"}, "transform": [{"filter": "datum.k == 'tek'"}], "mark": {"type": "text", "fontWeight": "bold", "fontSize": 12, "color": "#22e4b0"},
     "encoding": {"x": {"field": "x", "type": "quantitative", "scale": {"domain": [-5.523, 7.427], "nice": false, "zero": false}},
                  "y": {"field": "y", "type": "quantitative", "scale": {"domain": [-5.245, 4.54], "nice": false, "zero": false}},
                  "text": {"field": "s"}}},
    {"data": {"name": "R_bw"}, "mark": {"type": "text", "fontSize": 7},
     "encoding": {"x": {"field": "x", "type": "quantitative", "scale": {"domain": [-5.523, 7.427], "nice": false, "zero": false}},
                  "y": {"field": "y", "type": "quantitative", "scale": {"domain": [-5.245, 4.54], "nice": false, "zero": false}},
                  "text": {"field": "s"},
                  "color": {"field": "k", "type": "nominal", "scale": {"domain": ["c1", "c2", "c3"], "range": ["#a91ff0", "#f3a820", "#2fe0b4"]}}}}
  ]
}
]
}
